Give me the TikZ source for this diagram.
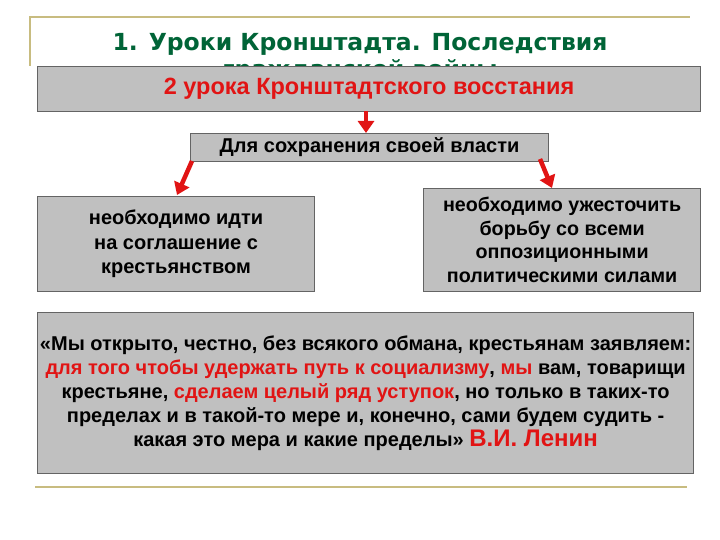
\documentclass[tikz,border=0pt]{standalone}
\usepackage{fontspec}
\setmainfont{Liberation Sans}
\newfontfamily\titlefont{DejaVu Sans}
\usetikzlibrary{arrows.meta}
\definecolor{tan}{RGB}{200,188,128}
\definecolor{boxgray}{RGB}{192,192,192}
\definecolor{boxedge}{RGB}{100,100,100}
\definecolor{rred}{RGB}{225,20,20}
\definecolor{tgreen}{RGB}{0,100,55}
\tikzset{
  box/.style={draw=boxedge, line width=1.2pt, fill=boxgray, anchor=north west, inner sep=0pt, align=center, font=\bfseries},
  redarrow/.style={draw=rred, line width=4.5pt, -{Triangle[width=16pt,length=12pt]}, shorten <=0pt},
  tanline/.style={draw=tan, line width=2.5pt}
}
\begin{document}
\begin{tikzpicture}[x=1pt,y=-1pt]
\useasboundingbox (0,0) rectangle (720,540);
\fill[white] (0,0) rectangle (720,540);
% frame lines
\coordinate (tl) at (30,17);
\coordinate (tr) at (690,17);
\coordinate (tb) at (30,66);
\draw[tanline] (tb) -- (tl) -- (tr);
\coordinate (bl) at (35,487);
\coordinate (br) at (687,487);
\draw[tanline] (bl) -- (br);
% title
\node[anchor=base, inner sep=0pt, text=tgreen, font=\titlefont\bfseries\fontsize{23.5}{28}\selectfont] (title) at (360,51) {1. Уроки Кронштадта. Последствия};
\node[anchor=base, inner sep=0pt, text=tgreen, font=\titlefont\bfseries\fontsize{23.5}{28}\selectfont] (title2) at (360,78) {гражданской войны};
% boxes
\node[box, minimum width=663pt, minimum height=45pt, text=rred, font=\bfseries\fontsize{23.5}{27}\selectfont] (b1) at (37,66) {2 урока Кронштадтского восстания};
\node[box, minimum width=358pt, minimum height=28pt, font=\bfseries\fontsize{20}{22}\selectfont] (b2) at (190,133) {Для сохранения своей власти};
\node[box, minimum width=277pt, minimum height=95pt, font=\bfseries\fontsize{20}{24.5}\selectfont] (b3) at (37,196) {необходимо идти\\на соглашение с\\крестьянством};
\node[box, minimum width=277pt, minimum height=103pt, font=\bfseries\fontsize{19.7}{23.5}\selectfont] (b4) at (423,188) {необходимо ужесточить\\борьбу со всеми\\оппозиционными\\политическими силами};
\node[box, minimum width=656pt, minimum height=161pt, font=\bfseries\fontsize{20}{24}\selectfont] (b5) at (37,312) {«Мы открыто, честно, без всякого обмана, крестьянам заявляем:\\
{\color{rred}для того чтобы удержать путь к социализму}, {\color{rred}мы} вам, товарищи\\
крестьяне, {\color{rred}сделаем целый ряд уступок}, но только в таких-то\\
пределах и в такой-то мере и, конечно, сами будем судить -\\
какая это мера и какие пределы» {\color{rred}\fontsize{24}{26}\selectfont В.И. Ленин}};
% arrows
\coordinate (a1s) at (366,111);
\coordinate (a1e) at (366,133);
\draw[redarrow] (a1s) -- (a1e);
\coordinate (a2s) at (192,161);
\coordinate (a2e) at (177,195);
\draw[redarrow] (a2s) -- (a2e);
\coordinate (a3s) at (540,159);
\coordinate (a3e) at (552,188);
\draw[redarrow] (a3s) -- (a3e);
\end{tikzpicture}
\end{document}
